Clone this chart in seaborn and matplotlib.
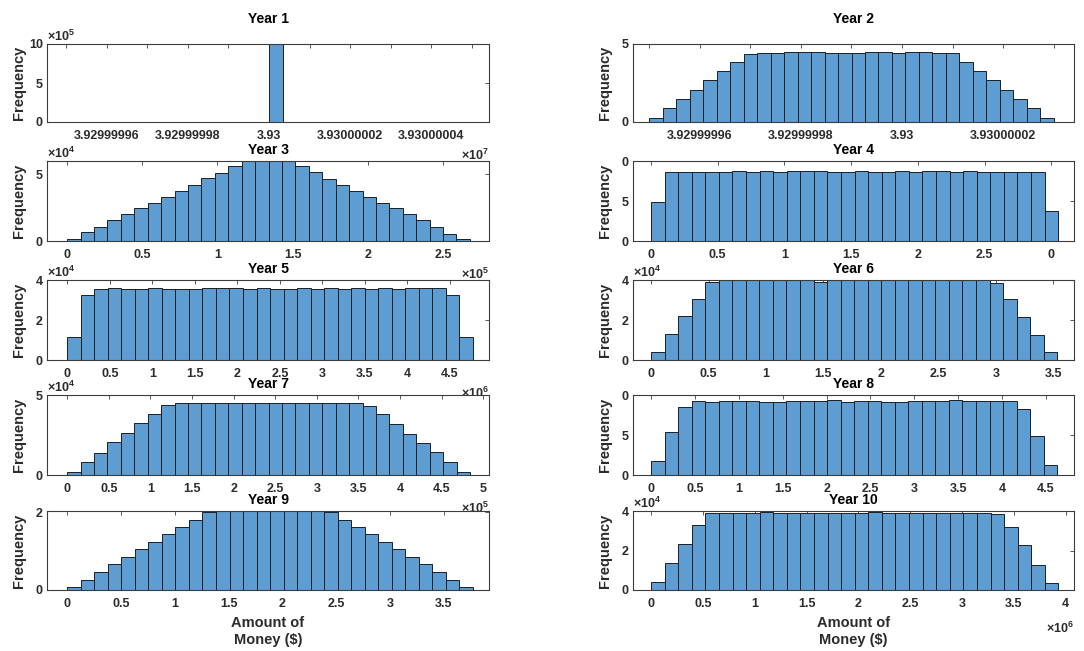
import numpy as np
import pandas as pd
import matplotlib
matplotlib.use("Agg")
import matplotlib.pyplot as plt
import seaborn as sns
from matplotlib.ticker import FixedLocator, FixedFormatter

sns.set_theme(style="white")
plt.rcParams["font.family"] = ["Liberation Sans", "DejaVu Sans"]
plt.rcParams["mathtext.fontset"] = "custom"
for _k in ("rm", "it", "bf", "sf"):
    plt.rcParams[f"mathtext.{_k}"] = "Liberation Sans:bold"

# ---------------------------------------------------------------------------
# Histogram data: first bin edge, bin width and bar heights (in axis units)
# ---------------------------------------------------------------------------
years = ["Year 1", "Year 2", "Year 3", "Year 4", "Year 5",
         "Year 6", "Year 7", "Year 8", "Year 9", "Year 10"]

y1_start, y1_width = 3.93, 0.345e-8
y1_counts = [10.0]

y2_start, y2_width = 3.92999995, 0.2667e-8
y2_counts = [0.28, 0.87, 1.49, 2.06, 2.70, 3.30, 3.87, 4.38, 4.45, 4.45,
             4.50, 4.50, 4.48, 4.45, 4.45, 4.45, 4.50, 4.50, 4.45, 4.50,
             4.50, 4.45, 4.40, 3.87, 3.27, 2.70, 2.08, 1.50, 0.88, 0.28]

y3_start, y3_width = 0.0, 0.0893
y3_counts = [0.13, 0.64, 1.03, 1.54, 2.00, 2.44, 2.87, 3.33, 3.77, 4.23,
             4.69, 5.13, 5.59, 6.05, 6.45, 6.45, 6.05, 5.64, 5.18, 4.67,
             4.23, 3.77, 3.33, 2.87, 2.44, 2.00, 1.54, 1.08, 0.51, 0.18]

y4_start, y4_width = 0.0, 0.1017
y4_counts = [4.83, 8.58, 8.58, 8.58, 8.58, 8.58, 8.75, 8.62, 8.75, 8.62,
             8.75, 8.75, 8.75, 8.62, 8.62, 8.75, 8.62, 8.62, 8.75, 8.62,
             8.75, 8.75, 8.62, 8.75, 8.62, 8.62, 8.62, 8.62, 8.62, 3.75]

y5_start, y5_width = 0.0, 0.159
y5_counts = [1.16, 3.26, 3.53, 3.60, 3.53, 3.53, 3.60, 3.53, 3.53, 3.53,
             3.60, 3.60, 3.60, 3.53, 3.60, 3.53, 3.53, 3.60, 3.53, 3.60,
             3.53, 3.60, 3.53, 3.60, 3.53, 3.60, 3.60, 3.60, 3.26, 1.16]

y6_start, y6_width = 0.0, 0.1178
y6_counts = [0.41, 1.32, 2.20, 3.06, 3.88, 3.98, 4.02, 4.02, 4.02, 4.00,
             4.02, 4.00, 3.90, 4.02, 4.02, 4.02, 4.00, 4.02, 4.05, 4.05,
             4.05, 4.00, 4.02, 4.02, 4.02, 3.83, 3.03, 2.17, 1.26, 0.38]

y7_start, y7_width = 0.0, 0.1614
y7_counts = [0.21, 0.83, 1.39, 2.05, 2.61, 3.25, 3.82, 4.36, 4.49, 4.49,
             4.49, 4.53, 4.49, 4.49, 4.49, 4.53, 4.49, 4.53, 4.49, 4.49,
             4.53, 4.49, 4.32, 3.82, 3.18, 2.56, 2.01, 1.43, 0.80, 0.20]

y8_start, y8_width = 0.0, 0.1543
y8_counts = [1.71, 5.38, 8.50, 9.27, 9.17, 9.20, 9.20, 9.20, 9.17, 9.17,
             9.27, 9.27, 9.27, 9.40, 9.17, 9.20, 9.20, 9.17, 9.17, 9.20,
             9.20, 9.20, 9.40, 9.20, 9.20, 9.20, 9.20, 8.29, 4.87, 1.28]

y9_start, y9_width = 0.0, 0.1257
y9_counts = [0.07, 0.26, 0.46, 0.66, 0.85, 1.05, 1.23, 1.43, 1.62, 1.80,
             2.00, 2.06, 2.03, 2.02, 2.03, 2.03, 2.06, 2.06, 2.06, 2.00,
             1.80, 1.62, 1.43, 1.23, 1.05, 0.85, 0.66, 0.46, 0.26, 0.07]

y10_start, y10_width = 0.0, 0.131
y10_counts = [0.43, 1.37, 2.35, 3.29, 3.91, 3.91, 3.91, 3.91, 3.96, 3.91,
              3.91, 3.91, 3.91, 3.91, 3.91, 3.91, 3.96, 3.91, 3.91, 3.91,
              3.91, 3.91, 3.91, 3.91, 3.91, 3.86, 3.20, 2.26, 1.29, 0.34]

# ---------------------------------------------------------------------------
# Tick positions and tick labels
# ---------------------------------------------------------------------------
y1_xticks = [3.92999995, 3.92999996, 3.92999997, 3.92999998, 3.92999999, 3.93,
             3.93000001, 3.93000002, 3.93000003, 3.93000004, 3.93000005]
y1_xlabels = ["", "3.92999996", "", "3.92999998", "", "3.93",
              "", "3.93000002", "", "3.93000004", ""]
y2_xticks = [3.92999995, 3.92999996, 3.92999997, 3.92999998, 3.92999999, 3.93,
             3.93000001, 3.93000002, 3.93000003]
y2_xlabels = ["", "3.92999996", "", "3.92999998", "", "3.93",
              "", "3.93000002", ""]
y3_xticks = [0, 0.5, 1, 1.5, 2, 2.5]
y3_xlabels = ["0", "0.5", "1", "1.5", "2", "2.5"]
y4_xticks = [0, 0.5, 1, 1.5, 2, 2.5, 3]
y4_xlabels = ["0", "0.5", "1", "1.5", "2", "2.5", "0"]
y5_xticks = [0, 0.5, 1, 1.5, 2, 2.5, 3, 3.5, 4, 4.5]
y5_xlabels = ["0", "0.5", "1", "1.5", "2", "2.5", "3", "3.5", "4", "4.5"]
y6_xticks = [0, 0.5, 1, 1.5, 2, 2.5, 3, 3.5]
y6_xlabels = ["0", "0.5", "1", "1.5", "2", "2.5", "3", "3.5"]
y7_xticks = [0, 0.5, 1, 1.5, 2, 2.5, 3, 3.5, 4, 4.5, 5]
y7_xlabels = ["0", "0.5", "1", "1.5", "2", "2.5", "3", "3.5", "4", "4.5", "5"]
y8_xticks = [0, 0.5, 1, 1.5, 2, 2.5, 3, 3.5, 4, 4.5]
y8_xlabels = ["0", "0.5", "1", "1.5", "2", "2.5", "3", "3.5", "4", "4.5"]
y9_xticks = [0, 0.5, 1, 1.5, 2, 2.5, 3, 3.5]
y9_xlabels = ["0", "0.5", "1", "1.5", "2", "2.5", "3", "3.5"]
y10_xticks = [0, 0.5, 1, 1.5, 2, 2.5, 3, 3.5, 4]
y10_xlabels = ["0", "0.5", "1", "1.5", "2", "2.5", "3", "3.5", "4"]

y1_yticks, y1_ylabels = [0, 5, 10], ["0", "5", "10"]
y2_yticks, y2_ylabels = [0, 5], ["0", "5"]
y3_yticks, y3_ylabels = [0, 5], ["0", "5"]
y4_yticks, y4_ylabels = [0, 5, 10], ["0", "5", "0"]
y5_yticks, y5_ylabels = [0, 2, 4], ["0", "2", "4"]
y6_yticks, y6_ylabels = [0, 2, 4], ["0", "2", "4"]
y7_yticks, y7_ylabels = [0, 5], ["0", "5"]
y8_yticks, y8_ylabels = [0, 5, 10], ["0", "5", "0"]
y9_yticks, y9_ylabels = [0, 2], ["0", "2"]
y10_yticks, y10_ylabels = [0, 2, 4], ["0", "2", "4"]

# power-of-ten multipliers shown beside the axes (None = not shown)
x_exponents = [7, None, 5, None, 6, None, 5, None, None, 6]
y_exponents = [5, None, 4, None, 4, 4, 4, None, None, 4]

x_label_lines = ["Amount of", "Money ($)"]

panels = [
    dict(start=y1_start, width=y1_width, counts=y1_counts,
         xlim=(3.9299999453, 3.9300000542), ylim=(0, 10),
         xt=y1_xticks, xl=y1_xlabels, yt=y1_yticks, yl=y1_ylabels),
    dict(start=y2_start, width=y2_width, counts=y2_counts,
         xlim=(3.9299999468, 3.9300000340), ylim=(0, 5),
         xt=y2_xticks, xl=y2_xlabels, yt=y2_yticks, yl=y2_ylabels),
    dict(start=y3_start, width=y3_width, counts=y3_counts,
         xlim=(-0.134, 2.806), ylim=(0, 6),
         xt=y3_xticks, xl=y3_xlabels, yt=y3_yticks, yl=y3_ylabels),
    dict(start=y4_start, width=y4_width, counts=y4_counts,
         xlim=(-0.135, 3.17), ylim=(0, 10),
         xt=y4_xticks, xl=y4_xlabels, yt=y4_yticks, yl=y4_ylabels),
    dict(start=y5_start, width=y5_width, counts=y5_counts,
         xlim=(-0.238, 4.96), ylim=(0, 4),
         xt=y5_xticks, xl=y5_xlabels, yt=y5_yticks, yl=y5_ylabels),
    dict(start=y6_start, width=y6_width, counts=y6_counts,
         xlim=(-0.157, 3.68), ylim=(0, 4),
         xt=y6_xticks, xl=y6_xlabels, yt=y6_yticks, yl=y6_ylabels),
    dict(start=y7_start, width=y7_width, counts=y7_counts,
         xlim=(-0.243, 5.07), ylim=(0, 5),
         xt=y7_xticks, xl=y7_xlabels, yt=y7_yticks, yl=y7_ylabels),
    dict(start=y8_start, width=y8_width, counts=y8_counts,
         xlim=(-0.206, 4.82), ylim=(0, 10),
         xt=y8_xticks, xl=y8_xlabels, yt=y8_yticks, yl=y8_ylabels),
    dict(start=y9_start, width=y9_width, counts=y9_counts,
         xlim=(-0.188, 3.92), ylim=(0, 2.03),
         xt=y9_xticks, xl=y9_xlabels, yt=y9_yticks, yl=y9_ylabels),
    dict(start=y10_start, width=y10_width, counts=y10_counts,
         xlim=(-0.174, 4.08), ylim=(0, 4),
         xt=y10_xticks, xl=y10_xlabels, yt=y10_yticks, yl=y10_ylabels),
]

# ---------------------------------------------------------------------------
# Layout (pixel boxes of the 5 x 2 grid) and styling
# ---------------------------------------------------------------------------
W, H = 1084, 651
col_px = [(47, 489), (633, 1074)]
row_px = [(44, 122), (161, 241), (280, 360), (395, 475), (511, 590)]

BAR = "#5E9DD2"
EDGE = "#1b1f24"
SPINE = "#3c3c3c"
TXT = "#2b2b2b"

fig = plt.figure(figsize=(W / 100, H / 100), dpi=100)
fig.patch.set_facecolor("white")

for i, p in enumerate(panels):
    r, c = divmod(i, 2)
    x0, x1 = col_px[c]
    top, bot = row_px[r]
    ax = fig.add_axes([x0 / W, 1 - bot / H, (x1 - x0) / W, (bot - top) / H])
    ax.set_facecolor("white")

    n = len(p["counts"])
    edges = p["start"] + p["width"] * np.arange(n + 1)
    hist_df = pd.DataFrame({"amount": (edges[:-1] + edges[1:]) / 2,
                            "frequency": np.asarray(p["counts"], float)})
    sns.histplot(data=hist_df, x="amount", weights="frequency",
                 bins=edges.tolist(), ax=ax, color=BAR, edgecolor=EDGE,
                 linewidth=0.7, alpha=1.0)
    ax.set_xlabel("")
    ax.set_ylabel("")

    ax.set_xlim(*p["xlim"])
    ax.set_ylim(*p["ylim"])
    ax.xaxis.set_major_locator(FixedLocator(p["xt"]))
    ax.xaxis.set_major_formatter(FixedFormatter(p["xl"]))
    ax.yaxis.set_major_locator(FixedLocator(p["yt"]))
    ax.yaxis.set_major_formatter(FixedFormatter(p["yl"]))
    ax.tick_params(axis="both", direction="in", length=3, width=0.6,
                   color=SPINE, top=True, right=True, labelsize=9,
                   labelcolor=TXT)
    ax.tick_params(axis="x", pad=5.5)
    ax.tick_params(axis="y", pad=3)
    for lab in ax.get_xticklabels() + ax.get_yticklabels():
        lab.set_fontweight("bold")
    for s in ax.spines.values():
        s.set_visible(True)
        s.set_color(SPINE)
        s.set_linewidth(0.8)

    ax.annotate(years[i], xy=(0.5, 1), xycoords="axes fraction",
                xytext=(0, 25 if r == 0 else 11), textcoords="offset pixels",
                ha="center", va="center", fontsize=10, fontweight="bold",
                color="black", annotation_clip=False)
    ax.annotate("Frequency", xy=(0, 0.5), xycoords="axes fraction",
                xytext=(-28, 0), textcoords="offset pixels", rotation=90,
                ha="center", va="center", fontsize=10.5, fontweight="bold",
                color=TXT, annotation_clip=False)

    if y_exponents[i] is not None:
        ax.annotate(rf"$\times10^{{{y_exponents[i]}}}$", xy=(0, 1),
                    xycoords="axes fraction", xytext=(0, 8),
                    textcoords="offset pixels", ha="left", va="center",
                    fontsize=9, color=TXT, annotation_clip=False)
    if x_exponents[i] is not None:
        ax.annotate(rf"$\times10^{{{x_exponents[i]}}}$", xy=(1, 0),
                    xycoords="axes fraction",
                    xytext=(0, -38 if r == 4 else -33),
                    textcoords="offset pixels", ha="right", va="center",
                    fontsize=9, color=TXT, annotation_clip=False)

    if r == 4:
        for line, dy in zip(x_label_lines, (-33, -50)):
            ax.annotate(line, xy=(0.5, 0), xycoords="axes fraction",
                        xytext=(0, dy), textcoords="offset pixels",
                        ha="center", va="center", fontsize=10.5,
                        fontweight="bold", color=TXT, annotation_clip=False)

fig.savefig("out.png", dpi=100, facecolor="white")
